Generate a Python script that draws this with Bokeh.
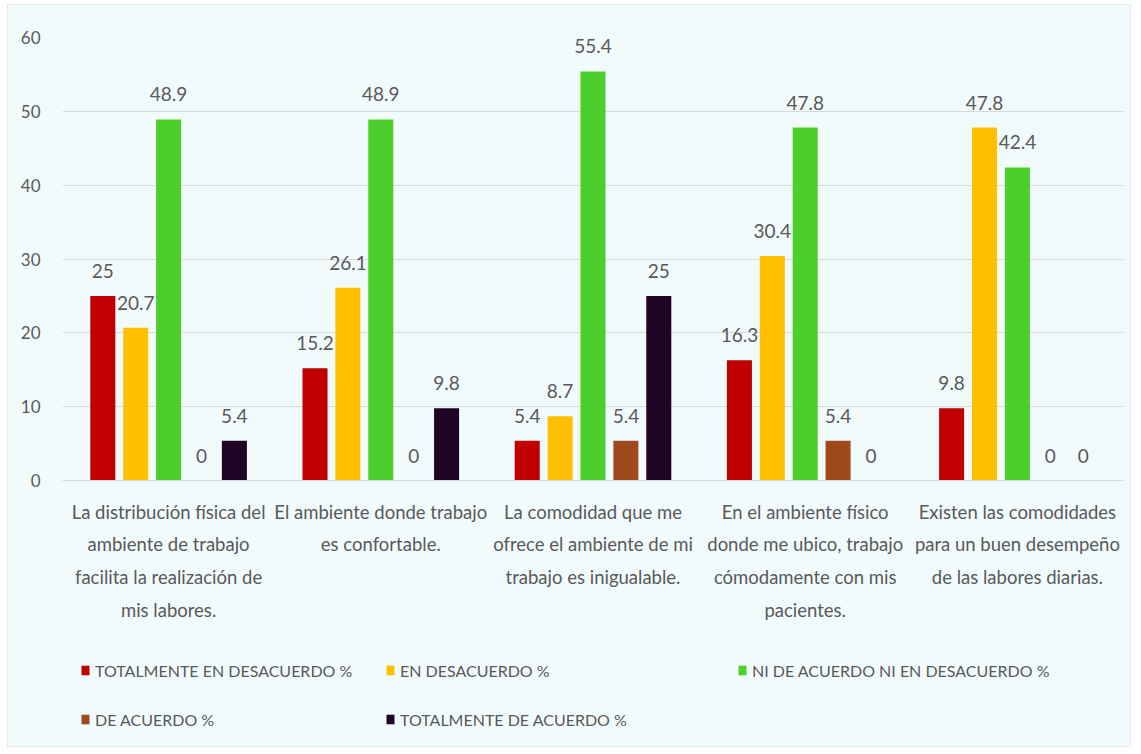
from bokeh.plotting import figure
from bokeh.layouts import column
from bokeh.models import ColumnDataSource, FactorRange, Range1d, Legend, LegendItem
from bokeh.transform import dodge
from bokeh.core.properties import value
from bokeh.embed import file_html
from bokeh.resources import INLINE

categories = [
    "La distribución física del\nambiente de trabajo\nfacilita la realización de\nmis labores.",
    "El ambiente donde trabajo\nes confortable.",
    "La comodidad que me\nofrece el ambiente de mi\ntrabajo es inigualable.",
    "En el ambiente físico\ndonde me ubico, trabajo\ncómodamente con mis\npacientes.",
    "Existen las comodidades\npara un buen desempeño\nde las labores diarias.",
]
series_names = [
    "TOTALMENTE EN DESACUERDO %",
    "EN DESACUERDO %",
    "NI DE ACUERDO NI EN DESACUERDO %",
    "DE ACUERDO %",
    "TOTALMENTE DE ACUERDO %",
]
totalmente_desacuerdo = [25, 15.2, 5.4, 16.3, 9.8]
en_desacuerdo = [20.7, 26.1, 8.7, 30.4, 47.8]
ni_ni = [48.9, 48.9, 55.4, 47.8, 42.4]
de_acuerdo = [0, 0, 5.4, 5.4, 0]
totalmente_acuerdo = [5.4, 9.8, 25, 0, 0]
y_ticks = [0, 10, 20, 30, 40, 50, 60]

series_values = [totalmente_desacuerdo, en_desacuerdo, ni_ni, de_acuerdo, totalmente_acuerdo]
colors = ["#c00000", "#ffc000", "#4ccf2a", "#9e4a1c", "#200426"]
offsets = [-0.31, -0.155, 0.0, 0.155, 0.31]

FONT = "Lato"
BG = "#f2fbfc"
GRAY = "#595959"

p = figure(
    x_range=FactorRange(*categories, range_padding=0.0),
    y_range=Range1d(0, 60),
    width=1122, height=645,
    output_backend="svg", toolbar_location=None,
    min_border_left=54, min_border_right=7, min_border_top=32, min_border_bottom=170,
    background_fill_color=BG, border_fill_color=BG,
    outline_line_color=None,
)

sources = []
for name, vals, col, off in zip(series_names, series_values, colors, offsets):
    src = ColumnDataSource(dict(cat=categories, val=vals, lab=[f"{v:g}" for v in vals]))
    sources.append(src)
    p.vbar(x=dodge("cat", off, range=p.x_range), top="val", width=0.118,
           source=src, fill_color=col, line_color=None)
    p.text(x=dodge("cat", off, range=p.x_range), y="val", text="lab", source=src,
           text_align="center", text_baseline="middle", y_offset=-25,
           text_font=value(FONT), text_font_size="19px", text_color=GRAY)

p.xgrid.grid_line_color = None
p.ygrid.grid_line_color = "#d9d9d9"
p.ygrid.grid_line_width = 1

p.yaxis.ticker = y_ticks
p.yaxis.axis_line_color = None
p.yaxis.major_tick_line_color = None
p.yaxis.minor_tick_line_color = None
p.yaxis.major_label_text_font = FONT
p.yaxis.major_label_text_font_size = "17px"
p.yaxis.major_label_text_color = GRAY
p.yaxis.major_label_standoff = 16

p.xaxis.axis_line_color = "#d9d9d9"
p.xaxis.major_tick_line_color = None
p.xaxis.minor_tick_line_color = None
p.xaxis.major_label_text_font = FONT
p.xaxis.major_label_text_font_size = "18.5px"
p.xaxis.major_label_text_color = GRAY
p.xaxis.major_label_text_line_height = 1.49
p.xaxis.major_label_standoff = 14

# legend strip below the chart (same series, bars fall outside its y range)
p2 = figure(
    x_range=p.x_range, y_range=Range1d(1000, 1001),
    width=1122, height=96,
    output_backend="svg", toolbar_location=None,
    x_axis_location=None, y_axis_location=None,
    min_border_left=0, min_border_right=0, min_border_top=0, min_border_bottom=0,
    background_fill_color=BG, border_fill_color=BG, outline_line_color=None,
)
p2.grid.visible = False

legend_pos = [(18, 66), (323, 66), (675, 66), (18, 17), (323, 17)]
for name, src, col, off, (lx, ly) in zip(series_names, sources, colors, offsets, legend_pos):
    r = p2.vbar(x=dodge("cat", off, range=p2.x_range), top="val", width=0.118,
                source=src, fill_color=col, line_color=None)
    lg = Legend(items=[LegendItem(label=name, renderers=[r])], location=(lx, ly),
                background_fill_alpha=0, border_line_color=None,
                padding=0, margin=0, glyph_width=10, glyph_height=12,
                label_standoff=5, label_text_font=FONT, label_text_font_size="16px",
                label_text_color=GRAY, label_height=20)
    p2.add_layout(lg, "center")

layout = column(p, p2, spacing=0, margin=(5, 11, 4, 8),
                styles={"background-color": BG, "outline": "1px solid #e3e8e9"})
open("out.html", "w").write(file_html(layout, INLINE))
